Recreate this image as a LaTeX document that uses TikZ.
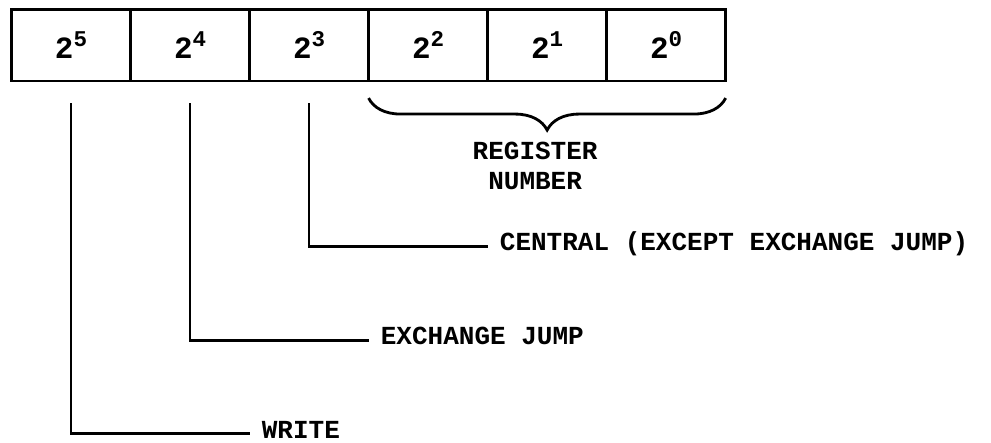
\documentclass[tikz,border=0pt]{standalone}
\usepackage{fontspec}
\setmonofont{Liberation Mono}
\usetikzlibrary{positioning,decorations.pathreplacing}
\newcommand{\bitpow}[1]{2\raisebox{0.4em}{\fontsize{16}{16}\selectfont #1}}

\begin{document}
\begin{tikzpicture}[
    x=0.025cm, y=-0.025cm,
    every node/.style={font=\ttfamily\bfseries\fontsize{18.5}{21}\selectfont},
    cell/.style={draw, line width=2pt, outer sep=0pt, minimum width=2.975cm, minimum height=1.79cm,
        font=\ttfamily\bfseries\fontsize{22}{24}\selectfont},
    leader/.style={line width=2pt, line join=miter},
    fieldlabel/.style={anchor=west, inner xsep=0.3cm, inner ysep=0pt, text height=1.6ex, text depth=0pt},
    bracket/.style={decorate, decoration={brace, amplitude=0.8cm}, line width=2pt},
]
\useasboundingbox (0,0) rectangle (991,442);

% ---- Word: bit cells ----
\node[cell] (b5) at (71,45.25) {\bitpow{5}};
\node[cell, right=0pt of b5] (b4) {\bitpow{4}};
\node[cell, right=0pt of b4] (b3) {\bitpow{3}};
\node[cell, right=0pt of b3] (b2) {\bitpow{2}};
\node[cell, right=0pt of b2] (b1) {\bitpow{1}};
\node[cell, right=0pt of b1] (b0) {\bitpow{0}};

% ---- Register number brace ----
\draw[bracket] ([yshift=-0.425cm]b0.south east) -- ([yshift=-0.425cm]b2.south west);
\coordinate (tip) at ([yshift=-1.225cm]b1.south);
\node[below=0.3cm of tip, xshift=-0.3cm, inner sep=0pt, align=center] (regnum) {REGISTER\\NUMBER};

% ---- Leader lines ----
\coordinate (t5) at ([yshift=-0.55cm]b5.south);
\coordinate (t4) at ([yshift=-0.55cm]b4.south);
\coordinate (t3) at ([yshift=-0.55cm]b3.south);

\node[fieldlabel] (central) at ([yshift=-4.125cm]b1.south west) {CENTRAL (EXCEPT EXCHANGE JUMP)};
\node[fieldlabel] (exchange) at ([yshift=-6.475cm]b2.south west) {EXCHANGE JUMP};
\node[fieldlabel] (write) at ([yshift=-8.8cm]b3.south west) {WRITE};

\draw[leader] (t3) |- (central.west);
\draw[leader] (t4) |- (exchange.west);
\draw[leader] (t5) |- (write.west);

\end{tikzpicture}
\end{document}
